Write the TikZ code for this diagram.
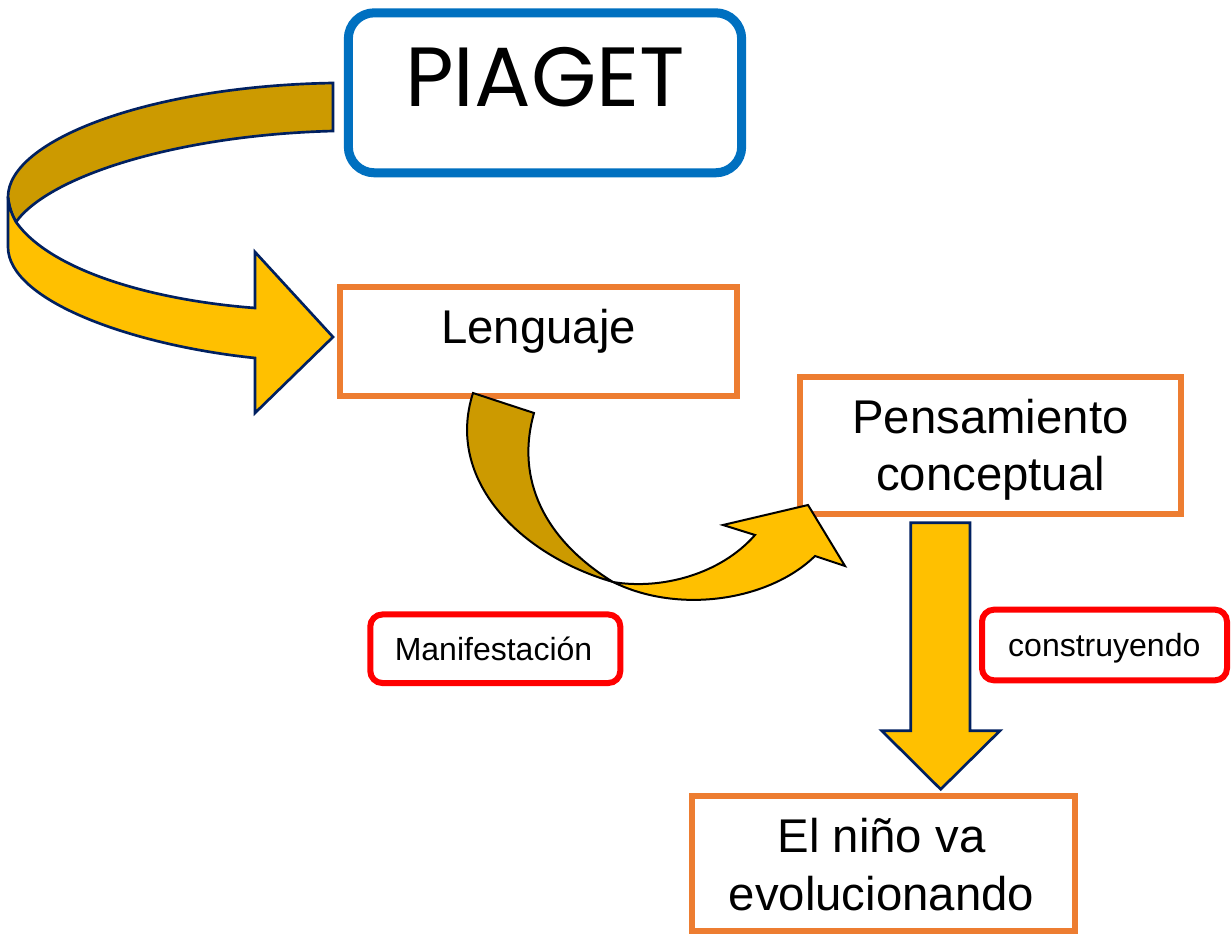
\documentclass[tikz,border=0pt]{standalone}
\usepackage{fontspec}
\setmainfont{Liberation Sans}
\newfontfamily\piagetfont{Poppins}
\definecolor{boxorange}{RGB}{237,125,49}
\definecolor{boxblue}{RGB}{0,112,192}
\definecolor{boxred}{RGB}{255,0,0}
\definecolor{arrowyellow}{RGB}{255,192,0}
\definecolor{arrowdark}{RGB}{204,154,0}
\definecolor{arrownavy}{RGB}{0,32,96}
\tikzset{
  obox/.style={draw=boxorange, line width=4.5pt, fill=white, inner sep=0pt},
  rbox/.style={draw=boxred, line width=4.5pt, fill=white, rounded corners=9pt, inner sep=0pt},
  bigtext/.style={anchor=base, inner sep=0pt, font=\fontsize{35.5}{43}\selectfont},
  smalltext/.style={anchor=base, inner sep=0pt, font=\fontsize{24}{29}\selectfont},
  navyarrow/.style={draw=arrownavy, line width=2pt, line join=miter},
  blackarrow/.style={draw=black, line width=1.5pt, line join=miter}
}
\begin{document}
\begin{tikzpicture}[x=0.75pt,y=-0.75pt]
\useasboundingbox (0,0) rectangle (1232,934);
\fill[white] (0,0) rectangle (1232,934);

% boxes
\node[draw=boxblue, line width=6.75pt, rounded corners=19.5pt, fill=white,
      minimum width=295pt, minimum height=120pt, inner sep=0pt] (piagetbox) at (545,92.8) {};
\node[obox, minimum width=297.4pt, minimum height=81.75pt] (lengbox) at (538.25,341.5) {};
\node[obox, minimum width=285.75pt, minimum height=102.75pt] (pensbox) at (990.5,445.2) {};
\node[obox, minimum width=286.8pt, minimum height=101.25pt] (ninobox) at (883.5,863.5) {};
\node[rbox, minimum width=187.5pt, minimum height=51.4pt] (manibox) at (495.3,648.75) {};
\node[rbox, minimum width=183.75pt, minimum height=53pt] (consbox) at (1104.5,645) {};

% texts
\node[anchor=base, inner sep=0pt, font=\piagetfont\fontsize{63}{70}\selectfont] (piaget) at (545,107) {PIAGET};
\node[bigtext] (leng) at (538.5,344) {Lenguaje};
\node[bigtext] (pens) at (990.5,433.3) {\begin{tabular}[t]{@{}c@{}}Pensamiento\\conceptual\end{tabular}};
\node[bigtext] (nino) at (881.5,852.7) {\begin{tabular}[t]{@{}c@{}}El niño va\\evolucionando\end{tabular}};
\node[smalltext] (mani) at (493.5,660.7) {Manifestación};
\node[smalltext] (cons) at (1104.3,656) {construyendo};

% curved arrow from PIAGET to Lenguaje
\coordinate (a1tip) at (333,337);
\filldraw[navyarrow, fill=arrowdark]
  (333,83) .. controls (150,86) and (8,140) .. (8,197)
  .. controls (9,207) and (12,215) .. (16,222)
  .. controls (50,175) and (180,135) .. (333,131) -- cycle;
\filldraw[navyarrow, fill=arrowyellow]
  (8,197) .. controls (9,207) and (12,215) .. (16,222)
  .. controls (50,270) and (150,300) .. (255,308)
  -- (255,252) -- (a1tip) -- (255,413) -- (255,358)
  .. controls (130,345) and (8,300) .. (8,247) -- cycle;

% curved arrow from Lenguaje to Pensamiento conceptual
\coordinate (a2tip) at (808,505);
\filldraw[blackarrow, fill=arrowdark]
  (473,393) -- (534,413)
  .. controls (515,480) and (545,540) .. (613,582)
  .. controls (520,555) and (445,480) .. (473,393) -- cycle;
\filldraw[blackarrow, fill=arrowyellow]
  (613,582) .. controls (660,590) and (720,575) .. (755,535)
  -- (723,525) -- (a2tip) -- (845,566) -- (815,556)
  .. controls (770,600) and (680,615) .. (613,582) -- cycle;

% down arrow from Pensamiento conceptual to El niño va evolucionando
\coordinate (a3tip) at (940.7,789.3);
\filldraw[navyarrow, fill=arrowyellow]
  (910.7,522.7) -- (970,522.7) -- (970,730.7) -- (1000,730.7)
  -- (a3tip) -- (881.7,730.7) -- (910.7,730.7) -- cycle;
\end{tikzpicture}
\end{document}
